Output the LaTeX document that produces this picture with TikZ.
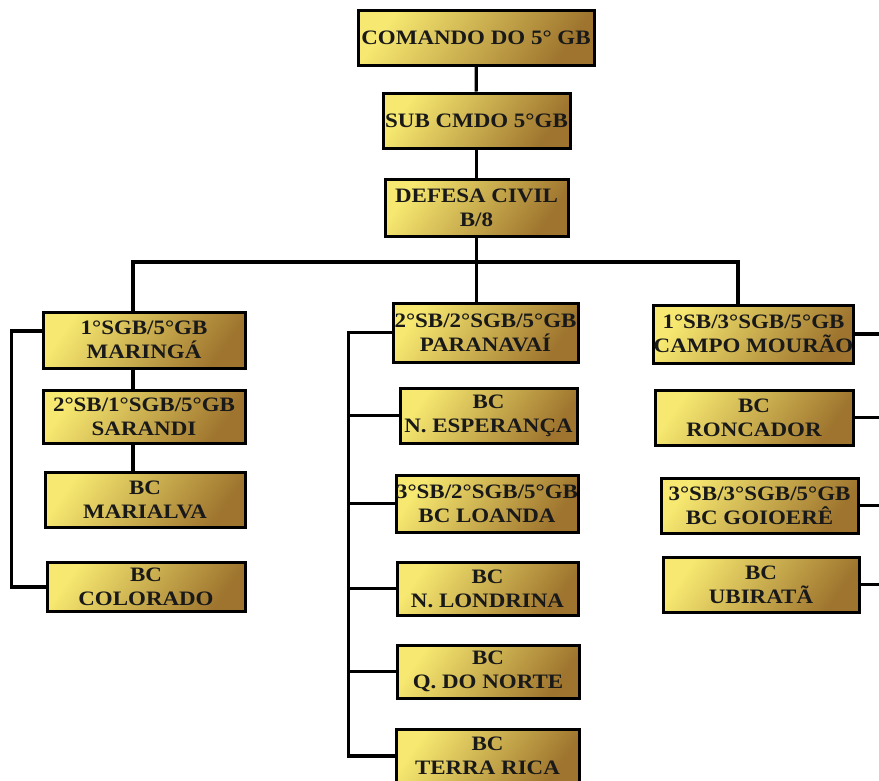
\documentclass[tikz,border=0pt]{standalone}
\usepackage{fontspec}
\setmainfont{Liberation Serif}[FakeStretch=1.12]
\usetikzlibrary{positioning}
\definecolor{goldhi}{RGB}{246, 232, 112}
\definecolor{goldlo}{RGB}{158, 116, 46}

\begin{document}
\begin{tikzpicture}[x=1pt, y=-1pt,
  unit/.style={draw=black, line width=3pt, top color=goldhi, bottom color=goldlo, shading angle=55, align=center, inner sep=0pt, text=black!90, font=\bfseries\fontsize{20.5}{24}\selectfont},
  link/.style={line width=3.2pt}
]
  \useasboundingbox (0,0) rectangle (879,780);

  % command line
  \node[unit, minimum width=236pt, minimum height=55pt] (cmd) at (476, 37.5) {COMANDO DO 5° GB};
  \node[unit, minimum width=187pt, minimum height=55pt] (sub) at (476.5, 120.5) {SUB CMDO 5°GB};
  \node[unit, minimum width=183pt, minimum height=57pt] (dc) at (476.5, 207.5) {DEFESA CIVIL\\B/8};

  % 1st SGB
  \node[unit, minimum width=202pt, minimum height=56pt] (mga) at (144, 340) {1°SGB/5°GB\\MARINGÁ};
  \node[unit, minimum width=202pt, minimum height=53pt] (sar) at (144, 416.5) {2°SB/1°SGB/5°GB\\SARANDI};
  \node[unit, minimum width=200pt, minimum height=55pt] (mav) at (145, 499.5) {BC\\MARIALVA};
  \node[unit, minimum width=198pt, minimum height=49pt] (col) at (146, 587) {BC\\COLORADO};

  % 2nd SGB
  \node[unit, minimum width=185pt, minimum height=59pt] (par) at (485.5, 332.5) {2°SB/2°SGB/5°GB\\PARANAVAÍ};
  \node[unit, minimum width=177pt, minimum height=55pt] (esp) at (488.5, 415.5) {BC\\N. ESPERANÇA};
  \node[unit, minimum width=182pt, minimum height=57pt] (loa) at (487, 503.5) {3°SB/2°SGB/5°GB\\BC LOANDA};
  \node[unit, minimum width=181pt, minimum height=53pt] (lon) at (487.5, 588.5) {BC\\N. LONDRINA};
  \node[unit, minimum width=182pt, minimum height=53pt] (qno) at (488, 671.5) {BC\\Q. DO NORTE};
  \node[unit, minimum width=183pt, minimum height=54pt] (ter) at (487.5, 756) {BC\\TERRA RICA};

  % 3rd SGB
  \node[unit, minimum width=197pt, minimum height=58pt] (cam) at (753.5, 334) {1°SB/3°SGB/5°GB\\CAMPO MOURÃO};
  \node[unit, minimum width=198pt, minimum height=55pt] (ron) at (754, 417.5) {BC\\RONCADOR};
  \node[unit, minimum width=197pt, minimum height=55pt] (goi) at (759.5, 505.5) {3°SB/3°SGB/5°GB\\BC GOIOERÊ};
  \node[unit, minimum width=196pt, minimum height=55pt] (ubi) at (761, 584.5) {BC\\UBIRATÃ};

  \coordinate (busL) at (133, 262);
  \coordinate (busR) at (738, 262);
  \coordinate (edge) at (879, 0);

  \draw[link] (cmd) -- (sub);
  \draw[link] (sub) -- (dc);
  \draw[link] (dc.south) -- (dc.south |- par.north);
  \draw[link] (busL |- mga.north) -- (busL) -- (busR) -- (busR |- cam.north);
  \draw[link] (busL |- mga.south) -- (busL |- sar.north);
  \draw[link] (busL |- sar.south) -- (busL |- mav.north);
  \draw[link] ([yshift=9pt]mga.west) -- ++(-30,0) |- (col.west);
  \draw[link] (par.west) -- ++(-43,0) |- (ter.west);
  \foreach \n in {esp, loa, lon, qno}
    \draw[link] (\n.west) -- (\n.west -| 350, 0);
  \foreach \n in {cam, ron, goi, ubi}
    \draw[link] (\n.east) -- (\n.east -| edge);
\end{tikzpicture}
\end{document}
